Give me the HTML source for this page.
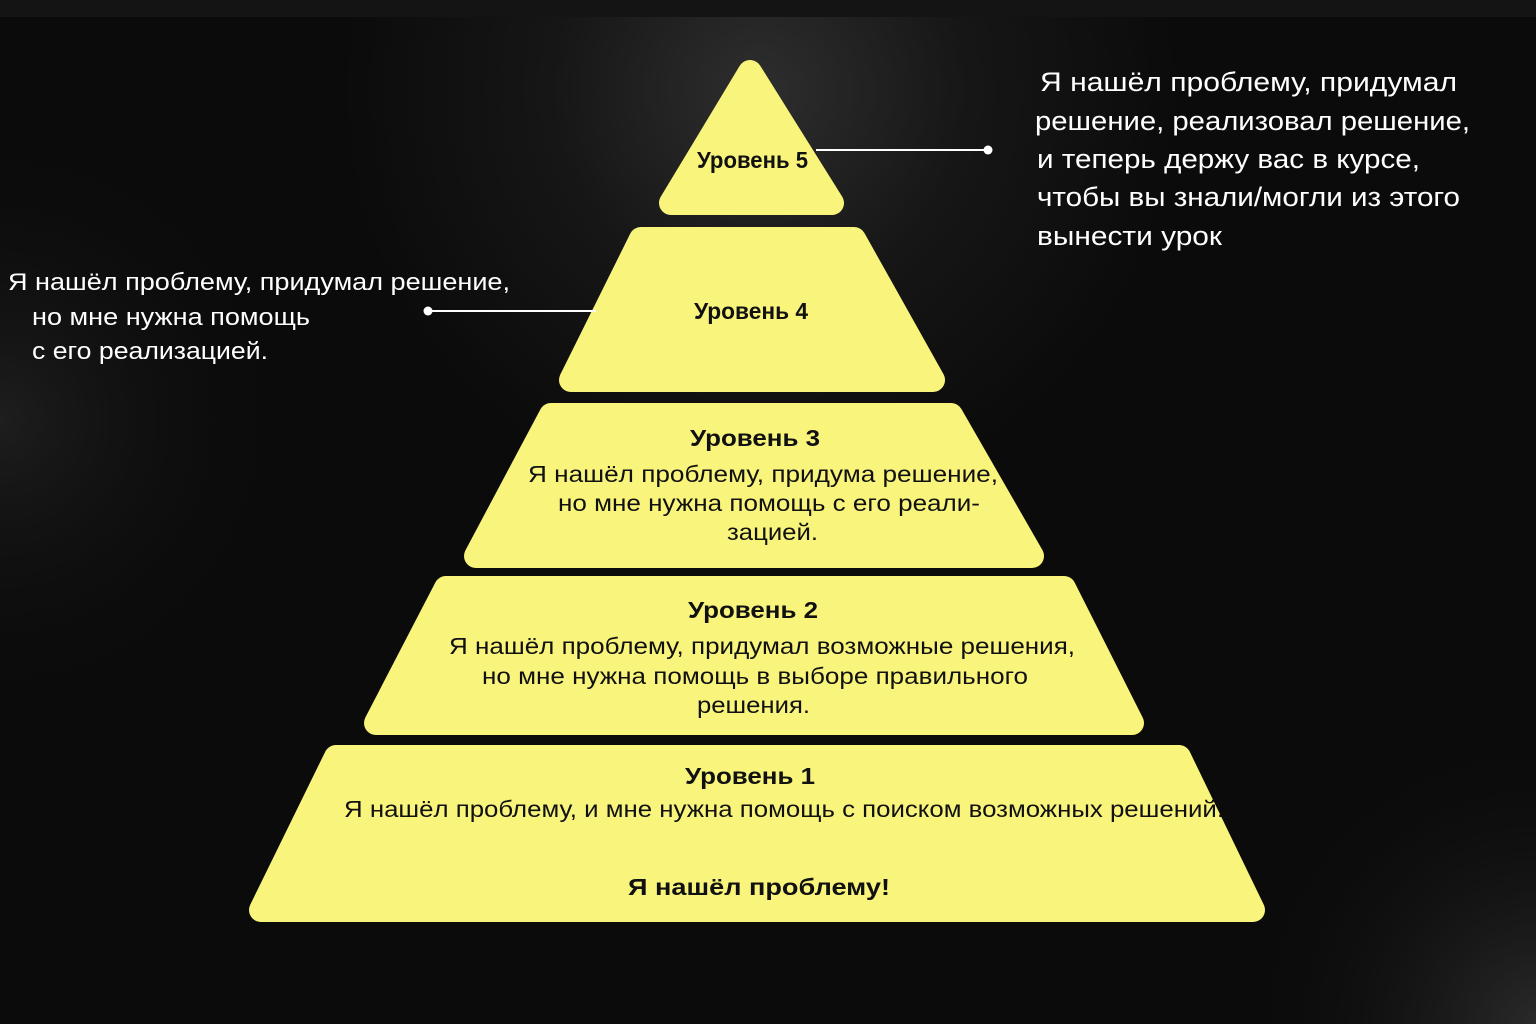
<!DOCTYPE html>
<html><head><meta charset="utf-8"><style>
html,body{margin:0;padding:0;background:#0b0b0b;}
svg{display:block;}
text{font-family:"Liberation Sans","DejaVu Sans",sans-serif;}
</style></head><body>
<svg width="1536" height="1024" viewBox="0 0 1536 1024" xmlns="http://www.w3.org/2000/svg">
<defs>
<radialGradient id="g1" cx="760" cy="90" r="420" gradientUnits="userSpaceOnUse">
<stop offset="0" stop-color="#2e2e2e"/><stop offset="0.5" stop-color="#161616"/><stop offset="1" stop-color="#0b0b0b"/>
</radialGradient>
<radialGradient id="g2" cx="1536" cy="1024" r="300" gradientUnits="userSpaceOnUse">
<stop offset="0" stop-color="#2a2a2a"/><stop offset="1" stop-color="#0b0b0b" stop-opacity="0"/>
</radialGradient>
<radialGradient id="g3" cx="0" cy="420" r="300" gradientUnits="userSpaceOnUse">
<stop offset="0" stop-color="#1e1e1e"/><stop offset="1" stop-color="#0b0b0b" stop-opacity="0"/>
</radialGradient>
</defs>
<rect width="1536" height="1024" fill="#0b0b0b"/>
<rect width="1536" height="1024" fill="url(#g1)"/>
<rect width="1536" height="1024" fill="url(#g2)"/>
<rect width="1536" height="1024" fill="url(#g3)"/>
<rect width="1536" height="17" fill="#141414"/>

<g fill="#f9f57c" stroke="#f9f57c" stroke-width="24" stroke-linejoin="round">
<polygon points="750,72 832,203 671,203"/>
<polygon points="641,239 854,239 933,380 571,380"/>
<polygon points="551,415 951,415 1032,556 476,556"/>
<polygon points="446,588 1064,588 1132,723 376,723"/>
<polygon points="336,757 1179,757 1253,910 261,910"/>
</g>

<line x1="816" y1="150" x2="988" y2="150" stroke="#fff" stroke-width="2"/>
<circle cx="988" cy="150" r="4.5" fill="#fff"/>
<line x1="428" y1="311" x2="596" y2="311" stroke="#fff" stroke-width="2"/>
<circle cx="428" cy="311" r="4.5" fill="#fff"/>

<g fill="#fff" font-size="27">
<text x="1040" y="91" textLength="417" lengthAdjust="spacingAndGlyphs">Я нашёл проблему, придумал</text>
<text x="1035" y="130" textLength="435" lengthAdjust="spacingAndGlyphs">решение, реализовал решение,</text>
<text x="1037" y="168" textLength="383" lengthAdjust="spacingAndGlyphs">и теперь держу вас в курсе,</text>
<text x="1037" y="206" textLength="423" lengthAdjust="spacingAndGlyphs">чтобы вы знали/могли из этого</text>
<text x="1037" y="245" textLength="185" lengthAdjust="spacingAndGlyphs">вынести урок</text>
</g>
<g fill="#fff" font-size="24">
<text x="8" y="290" textLength="502" lengthAdjust="spacingAndGlyphs">Я нашёл проблему, придумал решение,</text>
<text x="32" y="325" textLength="278" lengthAdjust="spacingAndGlyphs">но мне нужна помощь</text>
<text x="32" y="359" textLength="236" lengthAdjust="spacingAndGlyphs">с его реализацией.</text>
</g>

<g fill="#111" font-size="23" font-weight="bold">
<text x="697" y="168" textLength="111" lengthAdjust="spacingAndGlyphs">Уровень 5</text>
<text x="694" y="319" textLength="114" lengthAdjust="spacingAndGlyphs">Уровень 4</text>
<text x="690" y="446" textLength="130" lengthAdjust="spacingAndGlyphs">Уровень 3</text>
<text x="688" y="618" textLength="130" lengthAdjust="spacingAndGlyphs">Уровень 2</text>
<text x="685" y="784" textLength="130" lengthAdjust="spacingAndGlyphs">Уровень 1</text>
<text x="628" y="895" textLength="262" lengthAdjust="spacingAndGlyphs">Я нашёл проблему!</text>
</g>
<g fill="#111" font-size="23">
<text x="528" y="482" textLength="470" lengthAdjust="spacingAndGlyphs">Я нашёл проблему, придума решение,</text>
<text x="558" y="511" textLength="422" lengthAdjust="spacingAndGlyphs">но мне нужна помощь с его реали-</text>
<text x="727" y="540" textLength="91" lengthAdjust="spacingAndGlyphs">зацией.</text>
<text x="449" y="654" textLength="626" lengthAdjust="spacingAndGlyphs">Я нашёл проблему, придумал возможные решения,</text>
<text x="482" y="684" textLength="546" lengthAdjust="spacingAndGlyphs">но мне нужна помощь в выборе правильного</text>
<text x="697" y="713" textLength="113" lengthAdjust="spacingAndGlyphs">решения.</text>
<text x="344" y="817" textLength="880" lengthAdjust="spacingAndGlyphs">Я нашёл проблему, и мне нужна помощь с поиском возможных решений.</text>
</g>
</svg>
</body></html>
